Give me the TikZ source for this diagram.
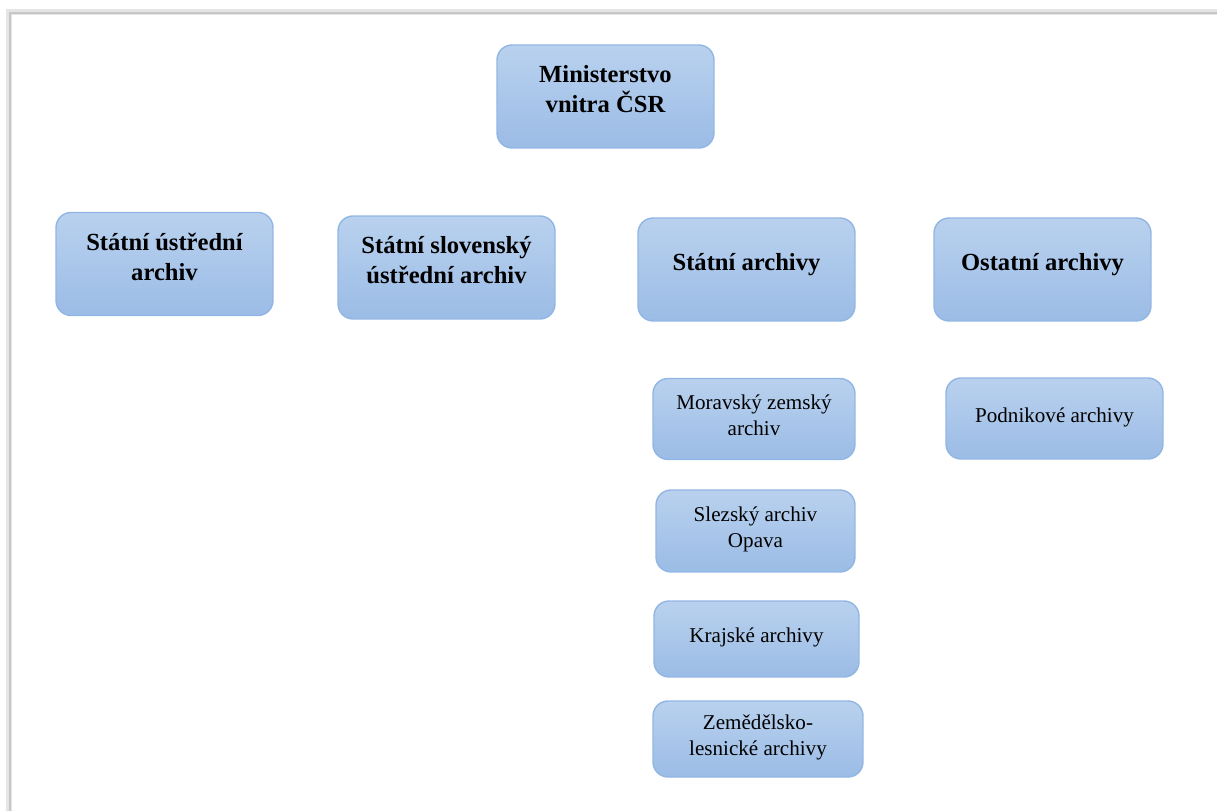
\documentclass[tikz,border=0pt]{standalone}
\usepackage{fontspec}
\setmainfont{Liberation Serif}
\definecolor{boxtop}{HTML}{B9D1EE}
\definecolor{boxbot}{HTML}{9BBCE6}
\definecolor{boxline}{HTML}{92B6E3}
\tikzset{
  unit/.style={draw=boxline, line width=0.8pt, rounded corners=0.3cm,
    top color=boxtop, bottom color=boxbot, align=center,
    minimum width=4.34cm, minimum height=2.06cm},
  main/.style={unit, font=\fontsize{14}{17}\selectfont\bfseries, text depth=0.3cm},
  sub/.style={unit, font=\fontsize{12}{14.7}\selectfont, minimum height=1.62cm, text depth=0.14cm}
}
\begin{document}
\begin{tikzpicture}[x=0.02cm,y=-0.02cm]
\useasboundingbox (0,0) rectangle (1217,811);
% page frame
\draw[black!10, line width=3pt] (9,811) -- (9,12) -- (1217,12);
\draw[black!22, line width=0.6pt] (10,811) -- (10,13) -- (1217,13);
% top
\node[main] (ministerstvo) at (605.5,96.5) {Ministerstvo\\vnitra ČSR};
% second level
\node[main] (ustredni) at (164.5,264) {Státní ústřední\\archiv};
\node[main] (slovensky) at (446.5,267.5) {Státní slovenský\\ústřední archiv};
\node[main] (statni) at (746.5,269.5) {Státní archivy};
\node[main] (ostatni) at (1042.5,269.5) {Ostatní archivy};
% state archives
\node[sub, minimum width=4.04cm] (moravsky) at (754,419) {Moravský zemský\\archiv};
\node[sub, minimum width=3.98cm, minimum height=1.64cm] (slezsky) at (755.5,531) {Slezský archiv\\Opava};
\node[sub, minimum width=4.1cm, minimum height=1.52cm] (krajske) at (756.5,639) {Krajské archivy};
\node[sub, minimum width=4.2cm, minimum height=1.52cm] (zemedelsko) at (758,739) {Zemědělsko-\\lesnické archivy};
% other archives
\node[sub] (podnikove) at (1054.5,418.5) {Podnikové archivy};
\end{tikzpicture}
\end{document}
